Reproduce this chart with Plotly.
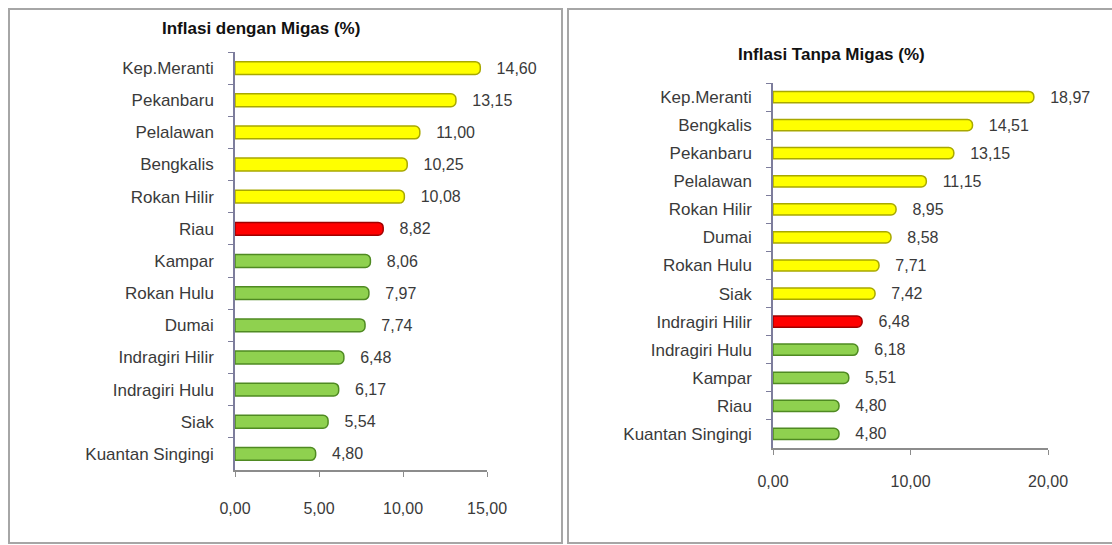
import plotly.graph_objects as go

# ---- data ----
left_title = "Inflasi dengan Migas (%)"
left_categories = ["Kep.Meranti", "Pekanbaru", "Pelalawan", "Bengkalis", "Rokan Hilir", "Riau",
                   "Kampar", "Rokan Hulu", "Dumai", "Indragiri Hilir", "Indragiri Hulu", "Siak",
                   "Kuantan Singingi"]
left_values = [14.60, 13.15, 11.00, 10.25, 10.08, 8.82, 8.06, 7.97, 7.74, 6.48, 6.17, 5.54, 4.80]
left_highlight = "Riau"
left_ticks = [0, 5, 10, 15]

right_title = "Inflasi Tanpa Migas (%)"
right_categories = ["Kep.Meranti", "Bengkalis", "Pekanbaru", "Pelalawan", "Rokan Hilir", "Dumai",
                    "Rokan Hulu", "Siak", "Indragiri Hilir", "Indragiri Hulu", "Kampar", "Riau",
                    "Kuantan Singingi"]
right_values = [18.97, 14.51, 13.15, 11.15, 8.95, 8.58, 7.71, 7.42, 6.48, 6.18, 5.51, 4.80, 4.80]
right_highlight = "Indragiri Hilir"
right_ticks = [0, 10, 20]

# ---- styles ----
W, H = 1112, 545
YELLOW, YELLOW_EDGE = "#ffff00", "#a8a800"
RED, RED_EDGE = "#ff0000", "#a00000"
GREEN, GREEN_EDGE = "#8fd14f", "#4f8a22"
FONT = "Liberation Sans"
TXT = "#3a3a3a"


def colors_for(cats, highlight):
    h = cats.index(highlight)
    fills, edges = [], []
    for i in range(len(cats)):
        if i < h:
            fills.append(YELLOW); edges.append(YELLOW_EDGE)
        elif i == h:
            fills.append(RED); edges.append(RED_EDGE)
        else:
            fills.append(GREEN); edges.append(GREEN_EDGE)
    return fills, edges


fig = go.Figure()

lf, le = colors_for(left_categories, left_highlight)
rf, re_ = colors_for(right_categories, right_highlight)

for cats, vals, fills, edges, xa, ya in [
    (left_categories, left_values, lf, le, "x", "y"),
    (right_categories, right_values, rf, re_, "x2", "y2"),
]:
    fig.add_trace(go.Bar(
        x=vals, y=cats, orientation="h", xaxis=xa, yaxis=ya,
        marker=dict(color=fills, line=dict(color=edges, width=1.5), cornerradius=5),
        width=0.4,
        texttemplate="\u00a0\u00a0\u00a0%{x:.2f}", textposition="outside",
        textfont=dict(family=FONT, size=16, color=TXT),
        constraintext="none", cliponaxis=False, showlegend=False,
        hoverinfo="skip",
    ))


def px_x(p):
    return p / W


def px_y(p):
    return 1 - p / H


axis_common = dict(showgrid=False, zeroline=False, showline=True, linewidth=1.5,
                   ticks="outside", ticklen=5, fixedrange=True, automargin=False)

fig.update_layout(
    width=W, height=H,
    margin=dict(l=0, r=0, t=0, b=0, pad=0, autoexpand=False),
    paper_bgcolor="white", plot_bgcolor="white",
    separators=",.",
    xaxis=dict(domain=[px_x(235), px_x(487)], range=[0, 15], anchor="y",
               tickvals=left_ticks, tickformat=".2f", linecolor="#8c8c8c",
               tickcolor="#8c8c8c", ticklabelstandoff=18,
               tickfont=dict(family=FONT, size=16, color=TXT), **axis_common),
    yaxis=dict(domain=[px_y(470), px_y(52)], anchor="x", type="category",
               categoryorder="array", categoryarray=left_categories, autorange="reversed",
               tickson="boundaries", linecolor="#7d7d9c", tickcolor="#7d7d9c",
               ticklabelstandoff=16,
               tickfont=dict(family=FONT, size=17, color=TXT), **axis_common),
    xaxis2=dict(domain=[px_x(773), px_x(1048)], range=[0, 20], anchor="y2",
                tickvals=right_ticks, tickformat=".2f", linecolor="#8c8c8c",
                tickcolor="#8c8c8c", ticklabelstandoff=13,
                tickfont=dict(family=FONT, size=16, color=TXT), **axis_common),
    yaxis2=dict(domain=[px_y(448), px_y(83)], anchor="x2", type="category",
                categoryorder="array", categoryarray=right_categories, autorange="reversed",
                tickson="boundaries", linecolor="#7d7d9c", tickcolor="#7d7d9c",
                ticklabelstandoff=16,
                tickfont=dict(family=FONT, size=17, color=TXT), **axis_common),
    shapes=[
        dict(type="rect", xref="paper", yref="paper", x0=px_x(9), x1=px_x(562),
             y0=px_y(543), y1=px_y(9), line=dict(color="#a6a6a6", width=2), layer="below"),
        dict(type="rect", xref="paper", yref="paper", x0=px_x(568), x1=px_x(1120),
             y0=px_y(543), y1=px_y(9), line=dict(color="#a6a6a6", width=2), layer="below"),
    ],
    annotations=[
        dict(text="<b>" + left_title + "</b>", xref="paper", yref="paper",
             x=px_x(261), y=px_y(28), xanchor="center", yanchor="middle", showarrow=False,
             font=dict(family=FONT, size=17, color="#111111")),
        dict(text="<b>" + right_title + "</b>", xref="paper", yref="paper",
             x=px_x(831), y=px_y(54), xanchor="center", yanchor="middle", showarrow=False,
             font=dict(family=FONT, size=17, color="#111111")),
    ],
)

fig.write_html("out.html", config={"displayModeBar": False},
               post_script="document.body.style.margin='0';document.body.style.overflow='hidden';")
